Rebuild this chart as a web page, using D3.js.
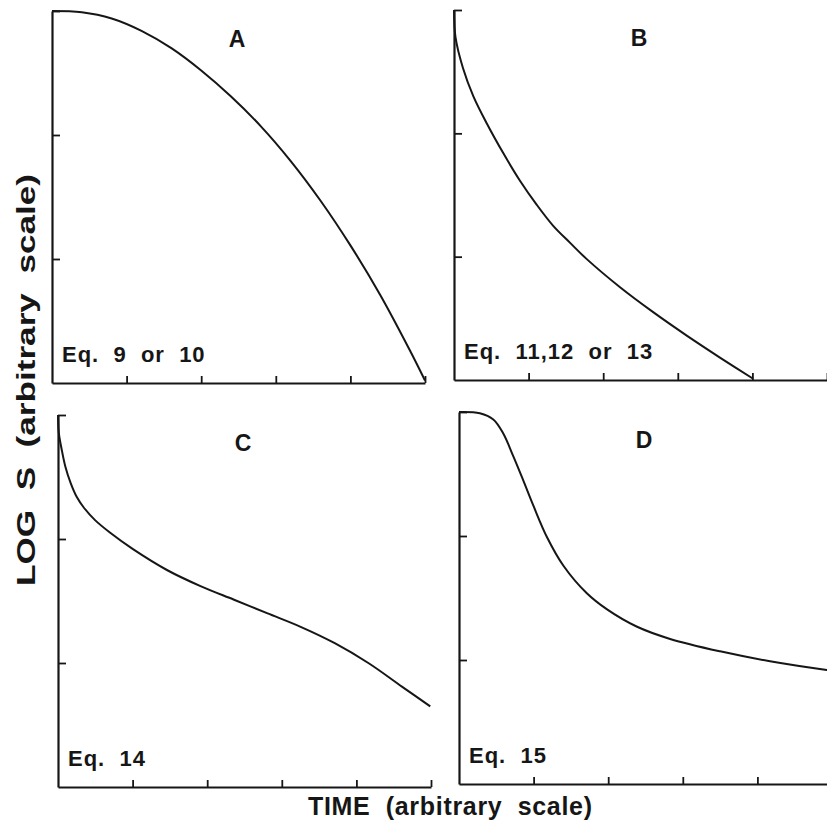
<!DOCTYPE html>
<html>
<head>
<meta charset="utf-8">
<script src="https://cdn.jsdelivr.net/npm/d3@7"></script>
<style>
  html, body { margin: 0; padding: 0; background: #fff; }
  svg { display: block; }
  text { font-family: "Liberation Sans", Arial, Helvetica, sans-serif; font-weight: bold; fill: #161616; }
</style>
</head>
<body>
<svg id="chart" width="827" height="830"></svg>
<script>

//
// Data (TIME on x, LOG S on y, both arbitrary units)
//

const panelNames = ['A', 'B', 'C', 'D'];
const eqLabels = ['Eq.  9  or  10', 'Eq.  11,12  or  13', 'Eq.  14', 'Eq.  15'];
const xTicks = [1, 2, 3, 4, 5];
const yTicks = [1, 2, 3];

const curveA = [[0, 3.0], [0.4, 2.99], [0.8, 2.94], [1.2, 2.84], [1.6, 2.70], [2.0, 2.52], [2.4, 2.31],
  [2.8, 2.07], [3.2, 1.79], [3.6, 1.47], [4.0, 1.11], [4.4, 0.71], [4.8, 0.26], [5.0, 0.02]];

const curveB = [[0, 3.0], [0.02, 2.78], [0.12, 2.53], [0.26, 2.30], [0.44, 2.08], [0.66, 1.84], [0.88, 1.62],
  [1.11, 1.42], [1.33, 1.25], [1.56, 1.11], [1.78, 0.98], [2.23, 0.75], [2.67, 0.55], [3.12, 0.36],
  [3.57, 0.18], [4.01, 0.01]];

const curveC = [[0, 3.0], [0.01, 2.86], [0.05, 2.72], [0.1, 2.58], [0.17, 2.45], [0.25, 2.34], [0.35, 2.25],
  [0.5, 2.15], [0.7, 2.05], [1.0, 1.92], [1.46, 1.75], [1.91, 1.62], [2.36, 1.51], [2.81, 1.40],
  [3.26, 1.29], [3.71, 1.16], [4.16, 1.00], [4.61, 0.81], [4.99, 0.65]];

const curveD = [[0, 3.0], [0.28, 2.99], [0.46, 2.94], [0.59, 2.83], [0.73, 2.64], [0.86, 2.45], [1.0, 2.24],
  [1.18, 1.99], [1.4, 1.76], [1.71, 1.54], [1.98, 1.41], [2.38, 1.27], [2.83, 1.17], [3.5, 1.07],
  [4.17, 0.99], [4.93, 0.92], [5.0, 0.915]];

const curves = [curveA, curveB, curveC, curveD];

//
// Layout (the scan is a little skewed, so each frame has its own origin)
//

const frames = [
  {x: 52, y: 11, h: 372},
  {x: 454, y: 10, h: 370},
  {x: 58, y: 415, h: 372},
  {x: 459, y: 412, h: 372}
];
const frameWidth = 373;
const ink = '#161616';

const svg = d3.select('#chart');

frames.forEach((f, i) => {
  const x = d3.scaleLinear().domain([0, 5]).range([0, frameWidth]);
  const y = d3.scaleLinear().domain([0, 3]).range([f.h, 0]);

  const g = svg.append('g').attr('transform', `translate(${f.x},${f.y})`);

  // axes, ticks point into the plot
  const xAxis = g.append('g')
      .attr('transform', `translate(0,${f.h})`)
      .call(d3.axisBottom(x).tickValues(xTicks).tickFormat('').tickSizeInner(-7).tickSizeOuter(0));
  const yAxis = g.append('g')
      .call(d3.axisLeft(y).tickValues(yTicks).tickFormat('').tickSizeInner(-8).tickSizeOuter(0));

  [xAxis, yAxis].forEach(a => {
    a.select('.domain').attr('stroke', ink).attr('stroke-width', 2.2);
    a.selectAll('.tick line').attr('stroke', ink).attr('stroke-width', 1.8);
  });

  const line = d3.line()
      .x(d => x(d[0]))
      .y(d => y(d[1]))
      .curve(d3.curveCatmullRom.alpha(0.5));

  g.append('path')
      .datum(curves[i])
      .attr('d', line)
      .attr('fill', 'none')
      .attr('stroke', ink)
      .attr('stroke-width', 2)
      .attr('stroke-linejoin', 'round');

  g.append('text')
      .attr('x', 185)
      .attr('y', 36)
      .attr('text-anchor', 'middle')
      .style('font-size', '23px')
      .text(panelNames[i]);

  g.append('text')
      .attr('x', 10)
      .attr('y', f.h - 21)
      .style('font-size', '22px')
      .style('letter-spacing', '1px')
      .style('white-space', 'pre')
      .text(eqLabels[i]);
});

// shared axis titles
svg.append('text')
    .attr('transform', 'translate(35,380) rotate(-90)')
    .attr('text-anchor', 'middle')
    .attr('textLength', 412)
    .attr('lengthAdjust', 'spacingAndGlyphs')
    .style('font-size', '26px')
    .style('white-space', 'pre')
    .text('LOG  S  (arbitrary  scale)');

svg.append('text')
    .attr('x', 450)
    .attr('y', 815)
    .attr('text-anchor', 'middle')
    .attr('textLength', 284)
    .attr('lengthAdjust', 'spacing')
    .style('font-size', '25px')
    .style('white-space', 'pre')
    .text('TIME  (arbitrary  scale)');

</script>
</body>
</html>
